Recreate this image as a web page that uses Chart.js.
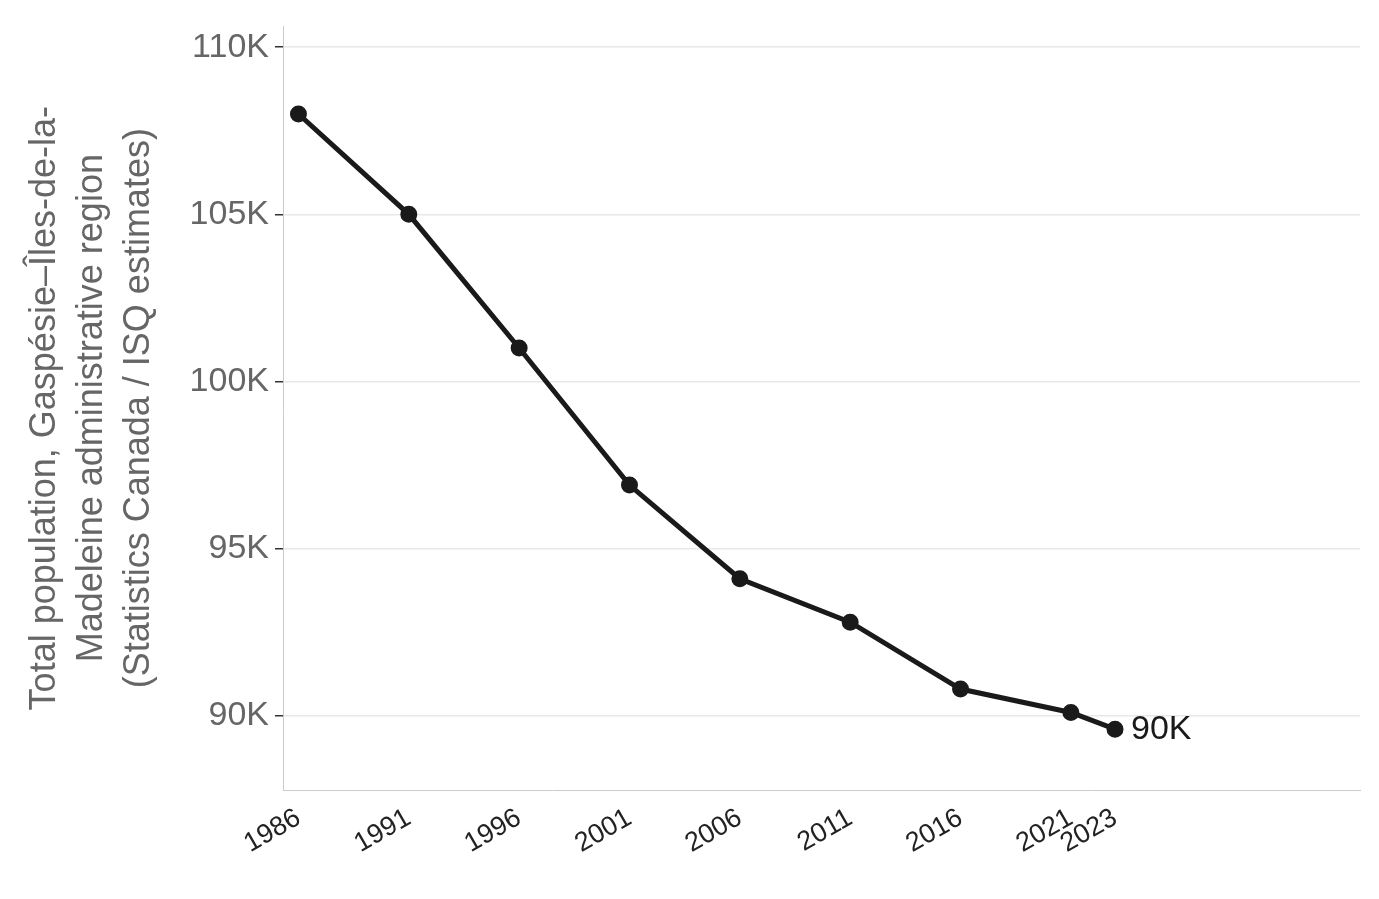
<!DOCTYPE html>
<html><head><meta charset="utf-8">
<script src="https://cdn.jsdelivr.net/npm/chart.js"></script>
<style>html,body{margin:0;padding:0;background:#fff}#w{width:1379px;height:899px}</style>
</head><body><div id="w"><canvas id="c"></canvas></div>
<script>
const years = [1986,1991,1996,2001,2006,2011,2016,2021,2023];
const population = [108000,105000,101000,96900,94100,92800,90800,90100,89600];
const yTicks = [90000,95000,100000,105000,110000];
const endLabel = "90K";
const labelPlugin = {
  id:'endLabel',
  afterDatasetsDraw(chart){
    const {ctx, scales:{x,y}} = chart;
    const i = years.length-1;
    ctx.save();
    ctx.font = '34px "Liberation Sans", Arial, sans-serif';
    ctx.fillStyle = '#1a1a1a';
    ctx.textBaseline = 'middle';
    ctx.fillText(endLabel, x.getPixelForValue(years[i])+16, y.getPixelForValue(population[i]));
    ctx.restore();
  }
};
new Chart(document.getElementById('c'), {
  type:'line',
  data:{datasets:[{data:years.map((yr,i)=>({x:yr,y:population[i]})),
    borderColor:'#1a1a1a',backgroundColor:'#1a1a1a',borderWidth:5,pointRadius:6,pointHoverRadius:6,tension:0}]},
  options:{
    responsive:true,maintainAspectRatio:false,animation:false,
    layout:{padding:{top:18,right:19,left:22,bottom:0}},
    plugins:{legend:{display:false},tooltip:{enabled:false}},
    scales:{
      x:{type:'linear',min:1985.3,max:2034.1,
        afterBuildTicks(s){s.ticks=years.map(v=>({value:v}));},
        afterFit(s){s.height=109;},
        grid:{display:false,drawTicks:true,tickLength:8,tickColor:'#333'},
        border:{color:'#ccc'},
        ticks:{autoSkip:false,maxRotation:30,minRotation:30,padding:4,color:'#222',font:{size:27,family:'"Liberation Sans", Arial, sans-serif'},callback:v=>String(v)}},
      y:{min:87780,max:110620,
        afterBuildTicks(s){s.ticks=yTicks.map(v=>({value:v}));},
        afterFit(s){s.width=261;},
        grid:{color:'#e8e8e8',lineWidth:1.5,tickLength:8,tickColor:'#333'},
        border:{color:'#ccc'},
        ticks:{color:'#666',padding:6,font:{size:34,family:'"Liberation Sans", Arial, sans-serif'},callback:v=>(v/1000)+'K'},
        title:{display:true,text:['Total population, Gaspésie–Îles-de-la-','Madeleine administrative region','(Statistics Canada / ISQ estimates)'],
          color:'#666',font:{size:36,family:'"Liberation Sans", Arial, sans-serif',lineHeight:1.3},padding:{bottom:0,top:0}}}
    }
  },
  plugins:[labelPlugin]
});
</script></body></html>
